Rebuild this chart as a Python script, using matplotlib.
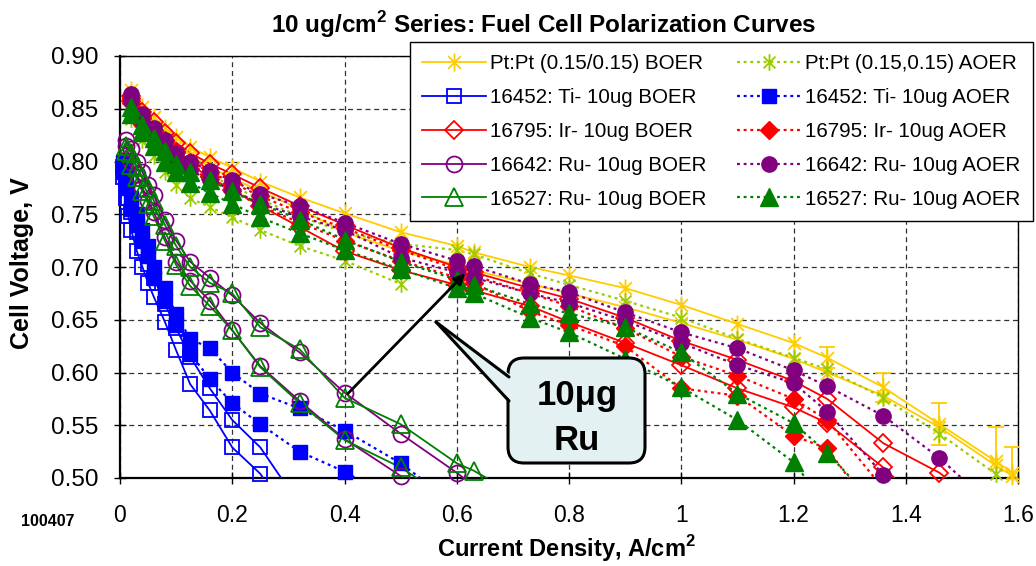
import numpy as np
import matplotlib
matplotlib.use('Agg')
import matplotlib.pyplot as plt
from matplotlib.path import Path
from matplotlib.patches import FancyBboxPatch, Polygon
from matplotlib.lines import Line2D
from matplotlib.ticker import FuncFormatter

plt.rcParams['font.family'] = ['Liberation Sans', 'DejaVu Sans']
plt.rcParams['mathtext.fontset'] = 'custom'
plt.rcParams['mathtext.rm'] = 'Liberation Sans'
plt.rcParams['mathtext.bf'] = 'Liberation Sans:bold'

# ---------------- data ----------------
X = [0.02, 0.04, 0.06, 0.08, 0.10, 0.125, 0.16, 0.20, 0.25, 0.32, 0.40, 0.50, 0.60,
     0.63, 0.73, 0.80, 0.90, 1.00, 1.10, 1.20, 1.26, 1.36, 1.46, 1.56, 1.59]
XL = [0.005, 0.01, 0.015, 0.02, 0.03, 0.04, 0.05, 0.06, 0.08, 0.10, 0.125, 0.16, 0.20, 0.25]
XR = [0.01, 0.02, 0.03, 0.04, 0.05, 0.06, 0.08, 0.10, 0.125, 0.16, 0.20, 0.25, 0.32, 0.40, 0.50]

# Pt:Pt BOER (two runs) + error bars on run 1
pt_boer_x1 = X
pt_boer_y1 = [0.868, 0.852, 0.842, 0.832, 0.823, 0.814, 0.804, 0.794, 0.781, 0.766, 0.751, 0.733, 0.720,
              0.714, 0.700, 0.692, 0.680, 0.664, 0.646, 0.628, 0.614, 0.586, 0.551, 0.516, 0.505]
pt_boer_err = [0, 0, 0, 0, 0, 0, 0, 0, 0, 0, 0, 0, 0, 0, 0, 0, 0, 0, 0, 0, 0.010, 0.014, 0.020, 0.032, 0.024]
pt_boer_x2 = X
pt_boer_y2 = [0.862, 0.845, 0.834, 0.824, 0.815, 0.806, 0.795, 0.784, 0.772, 0.755, 0.733, 0.715, 0.702,
              0.697, 0.684, 0.675, 0.662, 0.647, 0.631, 0.613, 0.600, 0.578, 0.548, 0.512, 0.502]

# Pt:Pt AOER
pt_aoer_x1 = X[:24]
pt_aoer_y1 = [0.855, 0.838, 0.826, 0.816, 0.806, 0.797, 0.787, 0.777, 0.764, 0.748, 0.733, 0.722, 0.716,
              0.712, 0.694, 0.683, 0.668, 0.652, 0.632, 0.614, 0.603, 0.576, 0.542, 0.504]
pt_aoer_x2 = X[:12]
pt_aoer_y2 = [0.840, 0.820, 0.805, 0.790, 0.778, 0.765, 0.757, 0.747, 0.735, 0.720, 0.706, 0.684]

# 16452 Ti BOER
ti_boer_x1 = XL + [0.30]
ti_boer_y1 = [0.795, 0.780, 0.765, 0.752, 0.733, 0.718, 0.703, 0.690, 0.665, 0.642, 0.615, 0.585, 0.555, 0.529, 0.490]
ti_boer_x2 = XL + [0.28]
ti_boer_y2 = [0.785, 0.765, 0.748, 0.735, 0.715, 0.700, 0.685, 0.672, 0.648, 0.621, 0.589, 0.564, 0.529, 0.504, 0.480]

# 16452 Ti AOER
ti_aoer_x1 = [0.005, 0.01, 0.02, 0.03, 0.04, 0.05, 0.06, 0.08, 0.10, 0.125, 0.16, 0.20, 0.25, 0.32, 0.40, 0.50, 0.56]
ti_aoer_y1 = [0.800, 0.785, 0.765, 0.750, 0.735, 0.720, 0.700, 0.680, 0.655, 0.632, 0.623, 0.600, 0.580, 0.566, 0.545, 0.514, 0.490]
ti_aoer_x2 = [0.005, 0.01, 0.02, 0.03, 0.04, 0.05, 0.06, 0.08, 0.10, 0.125, 0.16, 0.20, 0.25, 0.32, 0.40, 0.46]
ti_aoer_y2 = [0.790, 0.775, 0.755, 0.740, 0.725, 0.710, 0.690, 0.668, 0.645, 0.618, 0.594, 0.571, 0.551, 0.525, 0.506, 0.488]

# 16795 Ir BOER
ir_boer_x1 = X[:23] + [1.52]
ir_boer_y1 = [0.862, 0.847, 0.837, 0.827, 0.818, 0.808, 0.798, 0.788, 0.775, 0.758, 0.740, 0.718, 0.700,
              0.695, 0.680, 0.670, 0.652, 0.630, 0.612, 0.592, 0.575, 0.533, 0.505, 0.480]
ir_boer_x2 = X[:22] + [1.42]
ir_boer_y2 = [0.857, 0.840, 0.828, 0.818, 0.808, 0.797, 0.785, 0.773, 0.758, 0.738, 0.715, 0.697, 0.683,
              0.678, 0.663, 0.648, 0.628, 0.607, 0.585, 0.567, 0.552, 0.510, 0.480]

# 16795 Ir AOER
ir_aoer_x1 = X[:21] + [1.36]
ir_aoer_y1 = [0.860, 0.842, 0.830, 0.820, 0.810, 0.800, 0.790, 0.780, 0.767, 0.752, 0.737, 0.716, 0.698,
              0.692, 0.675, 0.663, 0.642, 0.615, 0.597, 0.575, 0.555, 0.490]
ir_aoer_x2 = X[:21] + [1.34]
ir_aoer_y2 = [0.855, 0.836, 0.823, 0.813, 0.803, 0.793, 0.783, 0.772, 0.758, 0.742, 0.725, 0.706, 0.690,
              0.685, 0.658, 0.645, 0.625, 0.585, 0.578, 0.540, 0.528, 0.470]

# 16642 Ru BOER
ru642_boer_x1 = XR + [0.60, 0.66]
ru642_boer_y1 = [0.820, 0.812, 0.800, 0.790, 0.778, 0.768, 0.745, 0.725, 0.705, 0.690, 0.673, 0.647, 0.619,
                 0.581, 0.542, 0.505, 0.480]
ru642_boer_x2 = XR + [0.56]
ru642_boer_y2 = [0.815, 0.800, 0.788, 0.775, 0.763, 0.752, 0.728, 0.705, 0.687, 0.668, 0.640, 0.606, 0.573,
                 0.537, 0.502, 0.475]

# 16642 Ru AOER
ru642_aoer_x1 = X[:23] + [1.52]
ru642_aoer_y1 = [0.864, 0.845, 0.832, 0.820, 0.808, 0.800, 0.791, 0.782, 0.769, 0.758, 0.742, 0.722, 0.706,
                 0.701, 0.684, 0.676, 0.657, 0.638, 0.623, 0.602, 0.587, 0.559, 0.519, 0.490]
ru642_aoer_x2 = X[:22] + [1.40]
ru642_aoer_y2 = [0.858, 0.838, 0.825, 0.813, 0.800, 0.792, 0.782, 0.773, 0.760, 0.748, 0.735, 0.709, 0.695,
                 0.690, 0.675, 0.666, 0.649, 0.628, 0.607, 0.590, 0.563, 0.503, 0.480]

# 16527 Ru BOER
ru527_boer_x1 = XR + [0.60, 0.63, 0.72]
ru527_boer_y1 = [0.815, 0.808, 0.795, 0.785, 0.775, 0.763, 0.740, 0.720, 0.700, 0.685, 0.675, 0.643, 0.622,
                 0.576, 0.551, 0.514, 0.507, 0.480]
ru527_boer_x2 = XR + [0.60]
ru527_boer_y2 = [0.810, 0.797, 0.785, 0.772, 0.760, 0.748, 0.725, 0.702, 0.682, 0.663, 0.640, 0.605, 0.571,
                 0.536, 0.510, 0.475]

# 16527 Ru AOER
ru527_aoer_x1 = X[:21] + [1.32]
ru527_aoer_y1 = [0.852, 0.835, 0.822, 0.810, 0.798, 0.790, 0.782, 0.772, 0.760, 0.745, 0.726, 0.705, 0.688,
                 0.683, 0.665, 0.656, 0.643, 0.619, 0.580, 0.552, 0.524, 0.490]
ru527_aoer_x2 = X[:20] + [1.25]
ru527_aoer_y2 = [0.845, 0.828, 0.815, 0.800, 0.790, 0.780, 0.770, 0.760, 0.747, 0.732, 0.716, 0.698, 0.680,
                 0.675, 0.652, 0.638, 0.613, 0.586, 0.555, 0.515, 0.480]

labels_boer = ['Pt:Pt (0.15/0.15) BOER', '16452: Ti- 10ug BOER', '16795: Ir- 10ug BOER',
               '16642: Ru- 10ug BOER', '16527: Ru- 10ug BOER']
labels_aoer = ['Pt:Pt (0.15,0.15) AOER', '16452: Ti- 10ug AOER', '16795: Ir- 10ug AOER',
               '16642: Ru- 10ug AOER', '16527: Ru- 10ug AOER']

x_ticks = [0, 0.2, 0.4, 0.6, 0.8, 1.0, 1.2, 1.4, 1.6]
y_ticks = [0.50, 0.55, 0.60, 0.65, 0.70, 0.75, 0.80, 0.85, 0.90]

# ---------------- styles ----------------
GOLD = '#FFCC00'
LIME = '#99CC00'
BLUE = '#0000FF'
RED = '#FF0000'
PURPLE = '#800080'
GREEN = '#008000'

ast = Path([(-0.8, -0.8), (0.8, 0.8), (-0.8, 0.8), (0.8, -0.8), (0, -1.13), (0, 1.13)],
           [Path.MOVETO, Path.LINETO, Path.MOVETO, Path.LINETO, Path.MOVETO, Path.LINETO])

SOLID = '-'
DOT = (0, (1.3, 1.7))

W, H = 1036, 566
fig = plt.figure(figsize=(W / 100, H / 100), dpi=100)
ax = fig.add_axes([120 / W, 1 - 478 / H, 898 / W, 422 / H])
ax.set_xlim(0, 1.6)
ax.set_ylim(0.5, 0.9)


def draw(x, y, color, marker, filled, ls, ms, lw, mew=1.3, err=None):
    x = np.asarray(x, float)
    y = np.asarray(y, float)
    ax.plot(x, y, color=color, lw=lw, ls=ls, clip_on=True, zorder=3)
    m = (y >= 0.5) & (x <= 1.6)
    if err is not None:
        e = np.asarray(err, float)
        me = m & (e > 0)
        ax.errorbar(x[me], y[me], yerr=e[me], fmt='none', ecolor=color, elinewidth=1.3,
                    capsize=6, capthick=1.3, zorder=3)
    ax.plot(x[m], y[m], ls='none', marker=marker, ms=ms,
            mfc=color if filled else 'none', mec=color, mew=mew, clip_on=False, zorder=4)


# Series in Excel order
series = [
    (pt_boer_x1, pt_boer_y1, GOLD, ast, False, SOLID, 13, 1.3, 1.3, pt_boer_err),
    (pt_boer_x2, pt_boer_y2, GOLD, ast, False, SOLID, 13, 1.3, 1.3, None),
    (pt_aoer_x1, pt_aoer_y1, LIME, ast, False, DOT, 12, 1.6, 1.3, None),
    (pt_aoer_x2, pt_aoer_y2, LIME, ast, False, DOT, 12, 1.6, 1.3, None),
    (ti_boer_x1, ti_boer_y1, BLUE, 's', False, SOLID, 10.5, 1.3, 1.3, None),
    (ti_boer_x2, ti_boer_y2, BLUE, 's', False, SOLID, 10.5, 1.3, 1.3, None),
    (ti_aoer_x1, ti_aoer_y1, BLUE, 's', True, DOT, 9.5, 1.6, 1.0, None),
    (ti_aoer_x2, ti_aoer_y2, BLUE, 's', True, DOT, 9.5, 1.6, 1.0, None),
    (ir_boer_x1, ir_boer_y1, RED, 'D', False, SOLID, 9.5, 1.3, 1.3, None),
    (ir_boer_x2, ir_boer_y2, RED, 'D', False, SOLID, 9.5, 1.3, 1.3, None),
    (ir_aoer_x1, ir_aoer_y1, RED, 'D', True, DOT, 9, 1.6, 1.0, None),
    (ir_aoer_x2, ir_aoer_y2, RED, 'D', True, DOT, 9, 1.6, 1.0, None),
    (ru642_boer_x1, ru642_boer_y1, PURPLE, 'o', False, SOLID, 11.5, 1.3, 1.3, None),
    (ru642_boer_x2, ru642_boer_y2, PURPLE, 'o', False, SOLID, 11.5, 1.3, 1.3, None),
    (ru642_aoer_x1, ru642_aoer_y1, PURPLE, 'o', True, DOT, 11, 1.6, 1.0, None),
    (ru642_aoer_x2, ru642_aoer_y2, PURPLE, 'o', True, DOT, 11, 1.6, 1.0, None),
    (ru527_boer_x1, ru527_boer_y1, GREEN, '^', False, SOLID, 12.5, 1.3, 1.3, None),
    (ru527_boer_x2, ru527_boer_y2, GREEN, '^', False, SOLID, 12.5, 1.3, 1.3, None),
    (ru527_aoer_x1, ru527_aoer_y1, GREEN, '^', True, DOT, 12.5, 1.6, 1.0, None),
    (ru527_aoer_x2, ru527_aoer_y2, GREEN, '^', True, DOT, 12.5, 1.6, 1.0, None),
]
for s in series:
    draw(s[0], s[1], s[2], s[3], s[4], s[5], s[6], s[7], s[8], s[9])

# axes styling
ax.set_xticks(x_ticks)
ax.set_yticks(y_ticks)
ax.xaxis.set_major_formatter(FuncFormatter(lambda v, p: ('%g' % round(v, 2))))
ax.yaxis.set_major_formatter(FuncFormatter(lambda v, p: '%.2f' % v))
ax.grid(True, ls=(0, (4, 3)), color='#333333', lw=0.9)
ax.set_axisbelow(True)
ax.tick_params(axis='y', direction='inout', length=9, width=1, labelsize=17.5, pad=11)
ax.tick_params(axis='x', direction='inout', length=9, width=1, labelsize=16.5, pad=14)
for sp in ax.spines.values():
    sp.set_color('black')
    sp.set_linewidth(1.0)
ax.spines['left'].set_linewidth(1.6)
ax.spines['bottom'].set_linewidth(1.6)

# texts
fig.text(544 / W, 1 - 25 / H, r'10 ug/cm$^{\mathbf{2}}$ Series: Fuel Cell Polarization Curves',
         ha='center', va='center', fontsize=17.5, fontweight='bold')
fig.text(566 / W, 1 - 549 / H, r'Current Density, A/cm$^{\mathbf{2}}$',
         ha='center', va='center', fontsize=17, fontweight='bold')
fig.text(22 / W, 1 - 263 / H, 'Cell Voltage, V', rotation=90,
         ha='center', va='center', fontsize=18, fontweight='bold')
fig.text(48 / W, 1 - 521 / H, '100407', ha='center', va='center', fontsize=11.5, fontweight='bold')

# legend
styles = [(GOLD, LIME, ast, ast, 13, 12), (BLUE, BLUE, 's', 's', 10.5, 9.5), (RED, RED, 'D', 'D', 9.5, 9),
          (PURPLE, PURPLE, 'o', 'o', 11.5, 11), (GREEN, GREEN, '^', '^', 12.5, 12.5)]
h_boer, h_aoer = [], []
for (cb, ca, mb, ma, msb, msa) in styles:
    h_boer.append(Line2D([], [], color=cb, lw=1.3, ls=SOLID, marker=mb, ms=msb, mfc='none', mec=cb, mew=1.3))
    h_aoer.append(Line2D([], [], color=ca, lw=1.6, ls=DOT, marker=ma, ms=msa,
                         mfc=ca if ma is not ast else 'none', mec=ca, mew=1.3 if ma is ast else 1.0))
leg = fig.legend(h_boer + h_aoer, labels_boer + labels_aoer, ncol=2,
                 loc='upper left', bbox_to_anchor=(410 / W, 1 - 42 / H), bbox_transform=fig.transFigure,
                 fontsize=14.8, frameon=True, fancybox=False, shadow=False, framealpha=1,
                 edgecolor='black', handlelength=3.1, handletextpad=0.2, columnspacing=1.5,
                 labelspacing=0.72, borderpad=0.6, borderaxespad=0)
leg.get_frame().set_linewidth(1.0)
leg.set_zorder(10)

# callout (pixel-based geometry, y measured from top)
T = fig.dpi_scale_trans
def P(px, py):
    return (px / 100.0, (H - py) / 100.0)

FILL = '#E3F1F3'
box_l, box_t, box_r, box_b = 508, 358, 645, 463
bx0, by0 = P(box_l, box_b)
bx1, by1 = P(box_r, box_t)
box = FancyBboxPatch((bx0, by0), bx1 - bx0, by1 - by0, boxstyle='round,pad=0,rounding_size=0.16',
                     transform=T, fc=FILL, ec='black', lw=2.2, zorder=20)
fig.add_artist(box)
wedge = Polygon([P(436, 322), P(512, 376), P(512, 402)], closed=True, transform=T,
                fc=FILL, ec='none', zorder=21)
fig.add_artist(wedge)
for end in [(509, 377), (509, 401)]:
    fig.add_artist(Line2D([P(436, 322)[0], P(*end)[0]], [P(436, 322)[1], P(*end)[1]],
                          transform=T, color='black', lw=2.2, zorder=22, solid_capstyle='round'))
fig.text(577 / W, 1 - 396 / H, '10\u03bcg', ha='center', va='center', fontsize=25,
         fontweight='bold', zorder=23)
fig.text(577 / W, 1 - 441 / H, 'Ru', ha='center', va='center', fontsize=25,
         fontweight='bold', zorder=23)

# arrow from (0.406, 0.580) to (0.615, 0.694)
ax.annotate('', xy=(0.615, 0.694), xytext=(0.406, 0.580), xycoords='data', textcoords='data',
            arrowprops=dict(arrowstyle='-|>', color='black', lw=2.0, mutation_scale=16,
                            shrinkA=0, shrinkB=0), zorder=15, annotation_clip=False)

fig.savefig('out.png', dpi=100)
